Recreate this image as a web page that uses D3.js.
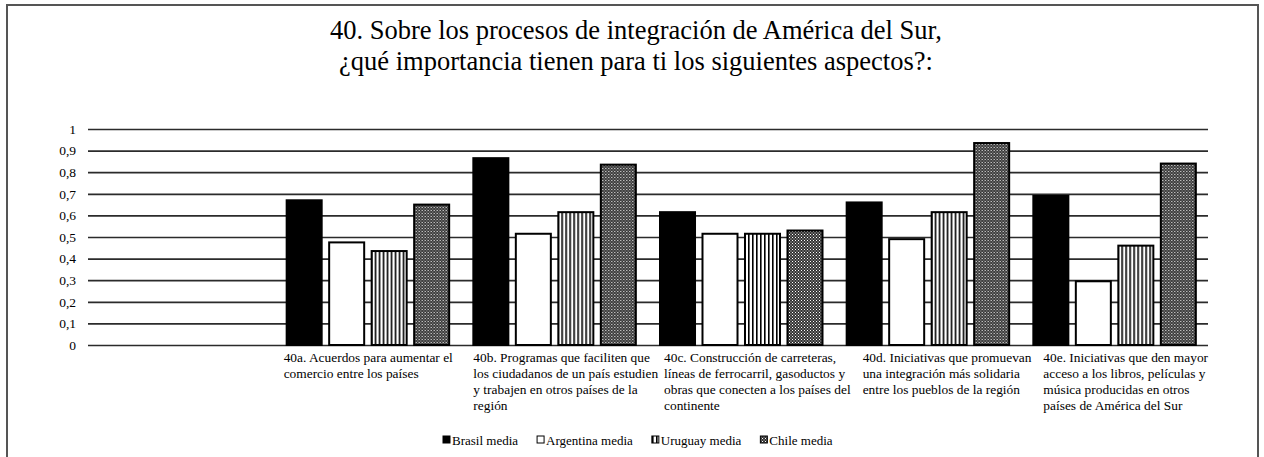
<!DOCTYPE html>
<html>
<head>
<meta charset="utf-8">
<script src="https://d3js.org/d3.v7.min.js"></script>
<style>
  body { margin: 0; background: #fff; }
  text { font-family: "Liberation Serif", "Times New Roman", serif; fill: #000; }
</style>
</head>
<body>
<svg id="chart" width="1264" height="457"></svg>
<script>
// categories (first slot is empty in the original chart)
const categories = ["", "40a", "40b", "40c", "40d", "40e"];
const categoryLines = [
  [],
  ["40a. Acuerdos para aumentar el", "comercio entre los países"],
  ["40b. Programas que faciliten que", "los ciudadanos de un país estudien", "y trabajen  en otros países de la", "región"],
  ["40c. Construcción de carreteras,", "líneas de ferrocarril, gasoductos y", "obras que conecten a los países del", "continente"],
  ["40d. Iniciativas que promuevan", "una integración más solidaria", "entre los pueblos de la región"],
  ["40e. Iniciativas que den mayor", "acceso a los libros, películas y", "música producidas en otros", "países de América del Sur"]
];
// how far each wrapped label block sits from the left edge of its band
const labelIndent = [0, 9, 12, 16, 28, 22];
const seriesNames = ["Brasil media", "Argentina media", "Uruguay media", "Chile media"];
const brasil    = [0.67, 0.865, 0.615, 0.66, 0.69];
const argentina = [0.475, 0.515, 0.515, 0.49, 0.295];
const uruguay   = [0.435, 0.615, 0.515, 0.615, 0.46];
const chile     = [0.65, 0.835, 0.53, 0.935, 0.84];
const yTicks = [0, 0.1, 0.2, 0.3, 0.4, 0.5, 0.6, 0.7, 0.8, 0.9, 1];
const titleLines = ["40. Sobre los procesos de integración de América del Sur,",
                    "¿qué importancia tienen para ti los siguientes aspectos?:"];

const seriesValues = [brasil, argentina, uruguay, chile];
const svg = d3.select("#chart");

// patterns
const defs = svg.append("defs");
const stripes = defs.append("pattern").attr("id", "stripes")
  .attr("patternUnits", "userSpaceOnUse").attr("width", 4).attr("height", 4);
stripes.append("rect").attr("width", 4).attr("height", 4).attr("fill", "#fff");
stripes.append("rect").attr("width", 1.6).attr("height", 4).attr("fill", "#000");
const dots = defs.append("pattern").attr("id", "dots")
  .attr("patternUnits", "userSpaceOnUse").attr("width", 3).attr("height", 3);
dots.append("rect").attr("width", 3).attr("height", 3).attr("fill", "#333");
dots.append("rect").attr("x", 0).attr("y", 0).attr("width", 1).attr("height", 1).attr("fill", "#fff");
dots.append("rect").attr("x", 1.5).attr("y", 1.5).attr("width", 1).attr("height", 1).attr("fill", "#ddd");
const fills = ["#000", "#fff", "url(#stripes)", "url(#dots)"];

// outer frame
svg.append("rect").attr("x", 7).attr("y", 5).attr("width", 1251).attr("height", 470)
  .attr("fill", "none").attr("stroke", "#555").attr("stroke-width", 2);

// title
svg.append("text").attr("text-anchor", "middle").style("font-size", "26.5px")
  .selectAll("tspan").data(titleLines).join("tspan")
  .attr("x", 636).attr("y", (d, i) => 39 + i * 31).text(d => d);

const x = d3.scaleBand().domain(categories).range([88, 1208]);
const xs = d3.scaleBand().domain(seriesNames).range([12, 174.5]).paddingInner(0.176);
const y = d3.scaleLinear().domain([0, 1]).range([345, 129]);

// gridlines + y labels
const yAxis = svg.append("g").attr("transform", "translate(88,0)")
  .call(d3.axisLeft(y).tickValues(yTicks).tickSize(-1120).tickPadding(12)
    .tickFormat(d => d3.format("~g")(d).replace(".", ",")));
yAxis.select(".domain").remove();
yAxis.selectAll(".tick line").attr("stroke", "#2b2b2b").attr("stroke-width", 1.7);
yAxis.selectAll(".tick text").style("font-size", "13.5px").attr("fill", "#000");

// bars
const rows = categories.slice(1).map((c, i) => ({cat: c, vals: seriesValues.map(s => s[i])}));
const groups = svg.selectAll("g.cat").data(rows).join("g").attr("class", "cat")
  .attr("transform", d => `translate(${x(d.cat)},0)`);
groups.selectAll("rect").data(d => d.vals.map((v, j) => ({v, j}))).join("rect")
  .attr("x", d => xs(seriesNames[d.j]))
  .attr("width", xs.bandwidth())
  .attr("y", d => y(d.v))
  .attr("height", d => y(0) - y(d.v))
  .attr("fill", d => fills[d.j])
  .attr("stroke", "#000").attr("stroke-width", 2);

// category labels: left-aligned wrapped lines under each band
categories.forEach((c, i) => {
  if (!categoryLines[i].length) return;
  svg.append("text").style("font-size", "13.4px")
    .selectAll("tspan").data(categoryLines[i]).join("tspan")
    .attr("x", x(c) + labelIndent[i])
    .attr("y", (d, k) => 362 + k * 16).text(d => d);
});

// legend
const legend = svg.append("g");
let lx = 443;
seriesNames.forEach((name, j) => {
  legend.append("rect").attr("x", lx).attr("y", 436).attr("width", 7).attr("height", 7)
    .attr("fill", fills[j]).attr("stroke", "#000").attr("stroke-width", 1);
  const t = legend.append("text").attr("x", lx + 9).attr("y", 445)
    .style("font-size", "13px").text(name);
  lx += 9 + t.node().getComputedTextLength() + 19;
});
</script>
</body>
</html>
